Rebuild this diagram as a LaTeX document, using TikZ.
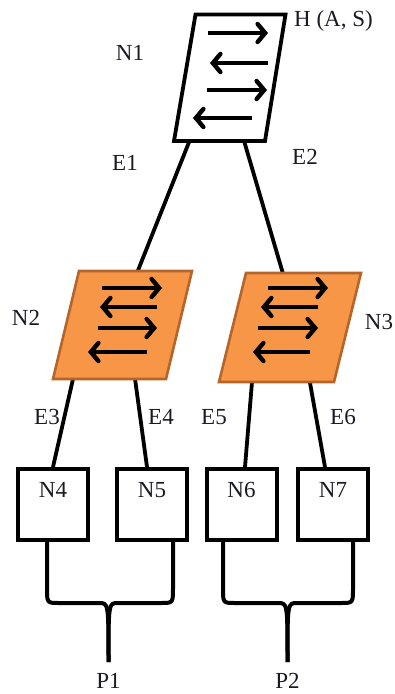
\documentclass[tikz,border=0pt]{standalone}
\usepackage{fontspec}
\setmainfont{Liberation Serif}
\usetikzlibrary{arrows.meta,calc}
\definecolor{relayfill}{HTML}{F79646}
\definecolor{relayedge}{HTML}{B5652A}
\definecolor{ink}{HTML}{1A1A24}
\begin{document}
\begin{tikzpicture}[x=1pt,y=-1pt,
  lbl/.style={font=\fontsize{23}{26}\selectfont, text=ink, inner sep=0pt, text height=15.2pt, text depth=0pt},
  link/.style={line width=3.8pt},
  flow/.style={line width=4.4pt, -{Straight Barb[length=7.5pt,width=18pt,line cap=round]}},
  hub/.style={draw=black, line width=3.8pt, fill=white, line join=miter},
  relay/.style={draw=relayedge, line width=2.6pt, fill=relayfill, line join=miter},
  leaf/.style={draw=black, line width=4pt, fill=white, minimum width=70pt, minimum height=71pt, inner sep=0pt},
  brace/.style={line width=4pt, line join=round},
]
\useasboundingbox (0,0) rectangle (394,694);

% corners of the three parallelogram nodes
\coordinate (n1tl) at (195.5,14.5); \coordinate (n1tr) at (285.5,14.5);
\coordinate (n1br) at (265,141);    \coordinate (n1bl) at (174,141);
\coordinate (n2tl) at (79,271);     \coordinate (n2tr) at (192,271);
\coordinate (n2br) at (166,379);    \coordinate (n2bl) at (53,379);
\coordinate (n3tl) at (246,273);    \coordinate (n3tr) at (361,273);
\coordinate (n3br) at (334,382);    \coordinate (n3bl) at (219,382);

% leaf boxes
\node[leaf] (n4) at (53,504.5) {};
\node[leaf] (n5) at (152,504.5) {};
\node[leaf] (n6) at (241.5,504.5) {};
\node[leaf] (n7) at (333,504.5) {};

% edges of the tree
\draw[link] ($(n1bl)!0.17!(n1br)$) -- ($(n2tl)!0.52!(n2tr)$);
\draw[link] ($(n1bl)!0.77!(n1br)$) -- ($(n3tl)!0.32!(n3tr)$);
\draw[link] ($(n2bl)!0.177!(n2br)$) -- (n4.north);
\draw[link] ($(n2bl)!0.726!(n2br)$) -- ($(n5.north)+(-5,0)$);
\draw[link] ($(n3bl)!0.287!(n3br)$) -- ($(n6.north)+(3.5,0)$);
\draw[link] ($(n3bl)!0.79!(n3br)$) -- ($(n7.north)+(-8,0)$);

% parallelogram nodes
\draw[hub] (n1tl) -- (n1tr) -- (n1br) -- (n1bl) -- cycle;
\draw[relay] (n2tl) -- (n2tr) -- (n2br) -- (n2bl) -- cycle;
\draw[relay] (n3tl) -- (n3tr) -- (n3br) -- (n3bl) -- cycle;

% direction arrows inside N1
\draw[flow] (208,33) -- (268,33);
\draw[flow] (268,63) -- (210,63);
\draw[flow] (207,90) -- (267,90);
\draw[flow] (252,118) -- (193,118);
% direction arrows inside N2
\draw[flow] (102,288) -- (162,288);
\draw[flow] (157,307) -- (100,307);
\draw[flow] (98,328) -- (157,328);
\draw[flow] (147,352) -- (88,352);
% direction arrows inside N3
\draw[flow] (268,288) -- (328,288);
\draw[flow] (318,307) -- (261,307);
\draw[flow] (258,328) -- (318,328);
\draw[flow] (310,352) -- (253,352);

% merge points
\coordinate (p1) at (108.5,662);
\coordinate (p2) at (287.5,662);

% braces joining the leaves
\draw[brace] ($(n4.south)+(-6,0)$) -- (47,588) .. controls (47,603) .. (59,603)
  -- (99,603) .. controls (108.5,603) .. (p1);
\draw[brace] ($(n5.south)+(21,0)$) -- (173,588) .. controls (173,603) .. (161,603)
  -- (118,603) .. controls (108.5,603) .. (p1);
\draw[brace] ($(n6.south)+(-18.5,0)$) -- (223,588) .. controls (223,603) .. (235,603)
  -- (278,603) .. controls (287.5,603) .. (p2);
\draw[brace] ($(n7.south)+(20,0)$) -- (353,588) .. controls (353,603) .. (341,603)
  -- (297,603) .. controls (287.5,603) .. (p2);

% labels
\node[lbl] (tn1) at (130,53) {N1};
\node[lbl, anchor=west] (th) at (294,19) {H (A, S)};
\node[lbl] (te1) at (125,163) {E1};
\node[lbl] (te2) at (305,157) {E2};
\node[lbl] (tn2) at (26,318) {N2};
\node[lbl] (tn3) at (379,322) {N3};
\node[lbl] (te3) at (47,417) {E3};
\node[lbl] (te4) at (161,417) {E4};
\node[lbl] (te5) at (214,417) {E5};
\node[lbl] (te6) at (343,417) {E6};
\node[lbl] (tn4) at (53,490) {N4};
\node[lbl] (tn5) at (152,490) {N5};
\node[lbl] (tn6) at (241.5,490) {N6};
\node[lbl] (tn7) at (333,490) {N7};
\node[lbl] (tp1) at (108.5,681) {P1};
\node[lbl] (tp2) at (287.5,681) {P2};
\end{tikzpicture}
\end{document}
